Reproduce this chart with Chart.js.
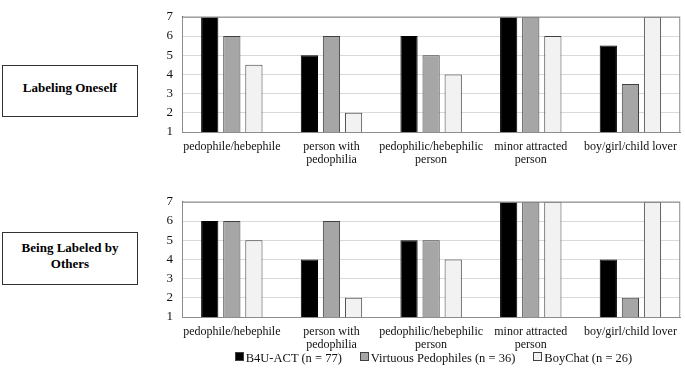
<!DOCTYPE html>
<html>
<head>
<meta charset="utf-8">
<script src="https://cdn.jsdelivr.net/npm/chart.js@4"></script>
<style>
  html, body { margin: 0; padding: 0; background: #fff; }
  body { width: 685px; height: 373px; position: relative; overflow: hidden; font-family: "Liberation Serif", "Times New Roman", Times, "DejaVu Serif", serif; }
  .panel { position: absolute; left: 145px; width: 540px; height: 170px; }
  .box {
    position: absolute; left: 2px; width: 136px;
    border: 1.5px solid #333; box-sizing: border-box;
    display: flex; align-items: center; justify-content: center;
    text-align: center; font-weight: bold; font-size: 13px; line-height: 16px;
    padding: 0 12px 6px 12px;
  }
  .legend {
    position: absolute; left: 182px; width: 503px; top: 350px;
    display: flex; justify-content: center; gap: 18px;
    font-size: 12.5px; line-height: 16px; color: #111;
  }
  .legend span.sw { display: inline-block; width: 7px; height: 7px; margin-right: 2px; border: 1px solid #404040; vertical-align: 1px; }
</style>
</head>
<body>
<div class="box" style="top:65px;height:52px;">Labeling Oneself</div>
<div class="box" style="top:232px;height:53px;">Being Labeled by Others</div>
<div class="panel" style="top:0px;"><canvas id="c1" width="540" height="170"></canvas></div>
<div class="panel" style="top:185px;"><canvas id="c2" width="540" height="170"></canvas></div>
<div class="legend" id="legend"></div>
<script>
// categories and series
const labels = [
  'pedophile/hebephile',
  ['person with', 'pedophilia'],
  ['pedophilic/hebephilic', 'person'],
  ['minor attracted', 'person'],
  'boy/girl/child lover'
];
const seriesNames = ['B4U-ACT (n = 77)', 'Virtuous Pedophiles (n = 36)', 'BoyChat (n = 26)'];
const seriesFill = ['#000000', '#a6a6a6', '#f2f2f2'];
const seriesBorder = ['#000000', '#404040', '#404040'];

// Labeling Oneself
const selfB4U = [7, 5, 6, 7, 5.5];
const selfVP = [6, 6, 5, 7, 3.5];
const selfBC = [4.5, 2, 4, 6, 7];

// Being Labeled by Others
const othersB4U = [6, 4, 5, 7, 4];
const othersVP = [6, 6, 5, 7, 2];
const othersBC = [5, 2, 4, 7, 7];

const yTicks = [1, 2, 3, 4, 5, 6, 7];

const serif = '"Liberation Serif", "Times New Roman", Times, "DejaVu Serif", serif';

// grey frame round the plot area
const frame = {
  id: 'frame',
  afterDatasetsDraw(chart) {
    const a = chart.chartArea;
    const ctx = chart.ctx;
    ctx.save();
    ctx.strokeStyle = '#8c8c8c';
    ctx.lineWidth = 1;
    ctx.strokeRect(a.left + 0.5, a.top + 0.5, a.right - a.left - 1, a.bottom - a.top);
    ctx.restore();
  }
};

function makeChart(id, sets) {
  new Chart(document.getElementById(id), {
    type: 'bar',
    data: {
      labels: labels,
      datasets: sets.map((d, i) => ({
        label: seriesNames[i],
        data: d,
        backgroundColor: seriesFill[i],
        borderColor: seriesBorder[i],
        borderWidth: 1,
        categoryPercentage: 0.665,
        barPercentage: 0.78
      }))
    },
    options: {
      responsive: false,
      animation: false,
      layout: { padding: { top: 6, right: 1 } },
      plugins: { legend: { display: false }, tooltip: { enabled: false } },
      scales: {
        x: {
          grid: { display: false, drawTicks: false },
          border: { color: '#8c8c8c' },
          ticks: {
            color: '#111', padding: 8, maxRotation: 0, autoSkip: false,
            font: { family: serif, size: 12, lineHeight: 1.12 }
          },
          afterFit: s => { s.height = 38; }
        },
        y: {
          min: 1, max: 7,
          afterBuildTicks: s => { s.ticks = yTicks.map(v => ({ value: v })); },
          grid: { color: '#d9d9d9', drawTicks: false },
          border: { color: '#595959' },
          ticks: {
            color: '#111', padding: 9,
            font: { family: serif, size: 13 }
          },
          afterFit: s => { s.width = 37; }
        }
      }
    },
    plugins: [frame]
  });
}

makeChart('c1', [selfB4U, selfVP, selfBC]);
makeChart('c2', [othersB4U, othersVP, othersBC]);

const legend = document.getElementById('legend');
seriesNames.forEach((n, i) => {
  const item = document.createElement('div');
  item.innerHTML = '<span class="sw" style="background:' + seriesFill[i] + '"></span>' + n;
  legend.appendChild(item);
});
</script>
</body>
</html>
